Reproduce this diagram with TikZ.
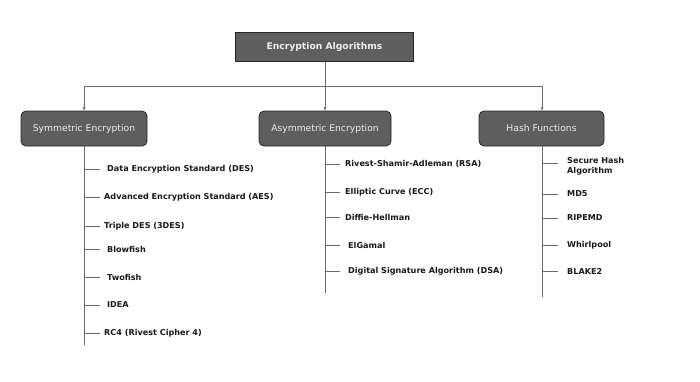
\documentclass[tikz,border=0pt]{standalone}
\usepackage{fontspec}
\setmainfont{DejaVu Sans}
\usetikzlibrary{arrows.meta}
\definecolor{boxfill}{HTML}{5E5E5E}
\definecolor{boxtext}{HTML}{EDEDED}
\definecolor{linec}{HTML}{6A6A6A}
\begin{document}
\begin{tikzpicture}[x=1pt,y=-1pt,
  topbox/.style={draw=black!85,line width=0.8pt,fill=boxfill,text=boxtext,font=\fontsize{9.2}{10}\selectfont\bfseries,minimum width=178pt,minimum height=29pt,inner sep=0pt},
  catbox/.style={draw=black!85,line width=0.8pt,fill=boxfill,text=boxtext,rounded corners=5pt,font=\fontsize{9.2}{10}\selectfont,minimum height=35pt,inner sep=0pt},
  item/.style={anchor=west,inner sep=0pt,font=\fontsize{8.1}{10}\selectfont\bfseries,text=black!90,align=left},
  conn/.style={draw=linec,line width=0.7pt},
  arr/.style={conn,-{Stealth[length=4pt,width=3pt]}}]
\useasboundingbox (0,0) rectangle (700,381);
\node[topbox] (top) at (324.5,47) {Encryption Algorithms};
\node[catbox,minimum width=126pt] (sym) at (84,128.5) {Symmetric Encryption};
\node[catbox,minimum width=132pt] (asym) at (325,128.5) {Asymmetric Encryption};
\node[catbox,minimum width=125pt] (hash) at (541.5,128.5) {Hash Functions};
\coordinate (hub) at (325,86);
\coordinate (hl) at (84,86);
\coordinate (hr) at (542,86);
\draw[conn] (top.south -| hub) -- (hub);
\draw[conn] (hl) -- (hr);
\draw[arr] (hl) -- (sym.north);
\draw[arr] (hub) -- (asym.north);
\draw[arr] (hr) -- (hash.north -| hr);
% symmetric
\coordinate (sEnd) at (84,345);
\draw[conn] (sym.south) -- (sEnd);
\node[item] (s1) at (107,169) {Data Encryption Standard (DES)};
\node[item] (s2) at (104,197) {Advanced Encryption Standard (AES)};
\node[item] (s3) at (104,226) {Triple DES (3DES)};
\node[item] (s4) at (107,249) {Blowfish};
\node[item] (s5) at (107,277) {Twofish};
\node[item] (s6) at (107,305) {IDEA};
\node[item] (s7) at (104,333) {RC4 (Rivest Cipher 4)};
\foreach \n in {s1,s2,s3,s4,s5,s6,s7} \draw[conn] (sEnd |- \n.west) -- ++(16,0);
% asymmetric
\coordinate (aEnd) at (325,293);
\draw[conn] (asym.south) -- (aEnd);
\node[item] (a1) at (345,164) {Rivest-Shamir-Adleman (RSA)};
\node[item] (a2) at (345,192) {Elliptic Curve (ECC)};
\node[item] (a3) at (345,217) {Diffie-Hellman};
\node[item] (a4) at (348,245) {ElGamal};
\node[item] (a5) at (348,271) {Digital Signature Algorithm (DSA)};
\foreach \n in {a1,a2,a3,a4,a5} \draw[conn] (aEnd |- \n.west) -- ++(15,0);
% hash
\coordinate (hEnd) at (542,297);
\draw[conn] (hash.south -| hEnd) -- (hEnd);
\node[item,anchor=north west] (h1) at (567,157) {Secure Hash\\Algorithm};
\node[item] (h2) at (567,194) {MD5};
\node[item] (h3) at (567,218) {RIPEMD};
\node[item] (h4) at (567,245) {Whirlpool};
\node[item] (h5) at (567,271) {BLAKE2};
\draw[conn] (hEnd |- 0,163) -- ++(16,0);
\foreach \n in {h2,h3,h4,h5} \draw[conn] (hEnd |- \n.west) -- ++(16,0);
\end{tikzpicture}
\end{document}
